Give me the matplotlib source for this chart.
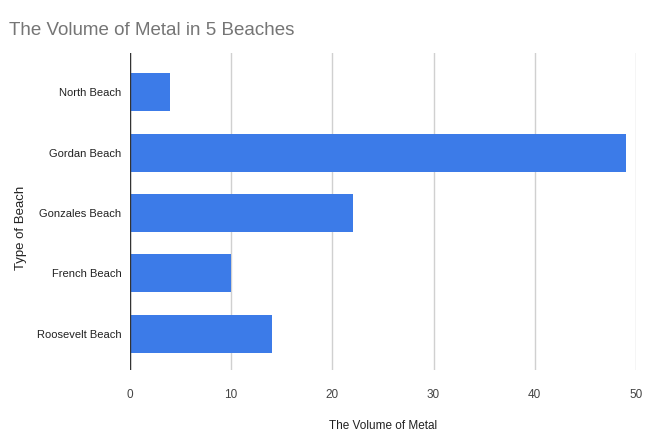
import matplotlib.pyplot as plt

plt.rcParams['font.family'] = ['Liberation Sans', 'DejaVu Sans']

beaches = ['North Beach', 'Gordan Beach', 'Gonzales Beach', 'French Beach', 'Roosevelt Beach']
volumes = [4, 49, 22, 10, 14]
x_ticks = [0, 10, 20, 30, 40, 50]

fig = plt.figure(figsize=(6.53, 4.32), dpi=100)
ax = fig.add_axes([0.199, 0.1435, 0.775, 0.734])

ax.barh(range(len(beaches)), volumes, height=0.63, color='#3c7be8', zorder=3)
ax.set_yticks(range(len(beaches)))
ax.set_yticklabels(beaches, fontsize=8, color='#222222')
ax.set_ylim(4.6, -0.65)

ax.set_xlim(0, 50)
ax.set_xticks(x_ticks)
ax.set_xticklabels([str(t) for t in x_ticks], fontsize=8.5, color='#444444')
ax.grid(axis='x', color='#d0d0d0', linewidth=1, zorder=0)
ax.axvline(0, color='#333333', linewidth=1, zorder=4)

for s in ax.spines.values():
    s.set_visible(False)
ax.tick_params(axis='both', length=0)
ax.tick_params(axis='x', pad=14)
ax.tick_params(axis='y', pad=6)

fig.text(0.587, 0.014, 'The Volume of Metal', fontsize=8.5, color='#222222',
         va='center', ha='center')
fig.text(0.032, 0.472, 'Type of Beach', rotation=90, fontsize=9.5, color='#222222',
         va='center', ha='center')

fig.text(0.014, 0.93, 'The Volume of Metal in 5 Beaches', fontsize=13.5, color='#757575',
         va='center', ha='left')

fig.savefig('out.png', dpi=100)
